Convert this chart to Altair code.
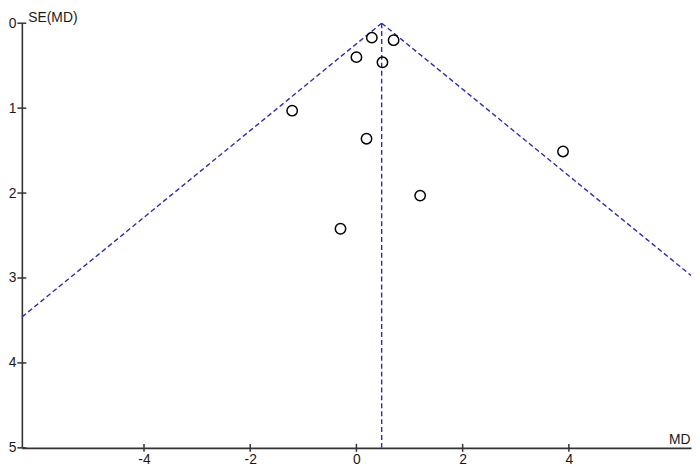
import altair as alt
import pandas as pd

# Study estimates
md = [0.29, 0.70, 0.00, 0.49, -1.21, 0.19, 1.20, -0.30, 3.89]
se = [0.17, 0.20, 0.40, 0.46, 1.03, 1.36, 2.03, 2.42, 1.51]

# Funnel: pooled estimate line and pseudo 95% limits (endpoints)
funnel_x = [0.475, 0.475, 0.475]
funnel_y = [0.0, 0.0, 0.0]
funnel_x2 = [-6.3, 6.3, 0.475]
funnel_y2 = [3.46, 2.97, 5.0]

x_ticks = [-4, -2, 0, 2, 4]
y_ticks = [0, 1, 2, 3, 4, 5]
x_domain = [-6.3, 6.3]
y_domain = [0, 5]

W = 676
H = 429
FONT = "Liberation Sans"
AX = "#333333"

pts = pd.DataFrame({"x": md, "y": se})
fun = pd.DataFrame({"x": funnel_x, "y": funnel_y, "x2": funnel_x2, "y2": funnel_y2})
xt = pd.DataFrame({"x": x_ticks, "y": [y_domain[1]] * len(x_ticks)})
yt = pd.DataFrame({"x": [x_domain[0]] * len(y_ticks), "y": y_ticks})

xs = alt.Scale(domain=x_domain, nice=False, zero=False)
ys = alt.Scale(domain=y_domain, reverse=True, nice=False, zero=False)

x_axis = alt.Axis(
    values=x_ticks, ticks=False, tickSize=0, labelPadding=5, grid=False,
    labelExpr="datum.value + ''",
    title="MD", titleAlign="right", titleBaseline="alphabetic",
    titleX=W - 1, titleY=-4, titleAngle=0,
)
y_axis = alt.Axis(
    values=y_ticks, ticks=False, tickSize=0, labelPadding=6, grid=False,
    labelExpr="datum.value + ''",
    title="SE(MD)", titleAlign="left", titleBaseline="alphabetic",
    titleX=6, titleY=-2, titleAngle=0,
)

X = alt.X("x:Q", scale=xs, axis=x_axis)
Y = alt.Y("y:Q", scale=ys, axis=y_axis)

funnel = alt.Chart(fun).mark_rule(
    color="#2a2ab8", strokeDash=[5, 3], strokeWidth=1.4
).encode(x=X, y=Y, x2="x2:Q", y2="y2:Q")

points = alt.Chart(pts).mark_point(
    shape="circle", filled=False, color="black", size=110, strokeWidth=1.5, opacity=1
).encode(x=X, y=Y)

xtick = alt.Chart(xt).mark_tick(
    orient="vertical", size=8, thickness=1.5, color=AX, opacity=1
).encode(x=X, y=Y)

ytick = alt.Chart(yt).mark_tick(
    orient="horizontal", size=9, thickness=1.5, color=AX, opacity=1
).encode(x=X, y=Y)

chart = alt.layer(funnel, xtick, ytick, points).properties(
    width=W, height=H, padding={"left": 0, "right": 0, "top": 0, "bottom": 0},
    background="white",
).configure_view(stroke=None).configure_axis(
    domainColor=AX, domainWidth=1.6,
    labelFont=FONT, labelFontSize=14, labelColor="#1a1a1a",
    titleFont=FONT, titleFontSize=14, titleFontWeight="normal", titleColor="#1a1a1a",
)

chart.save("out.html", embed_options={"renderer": "svg", "actions": False})
